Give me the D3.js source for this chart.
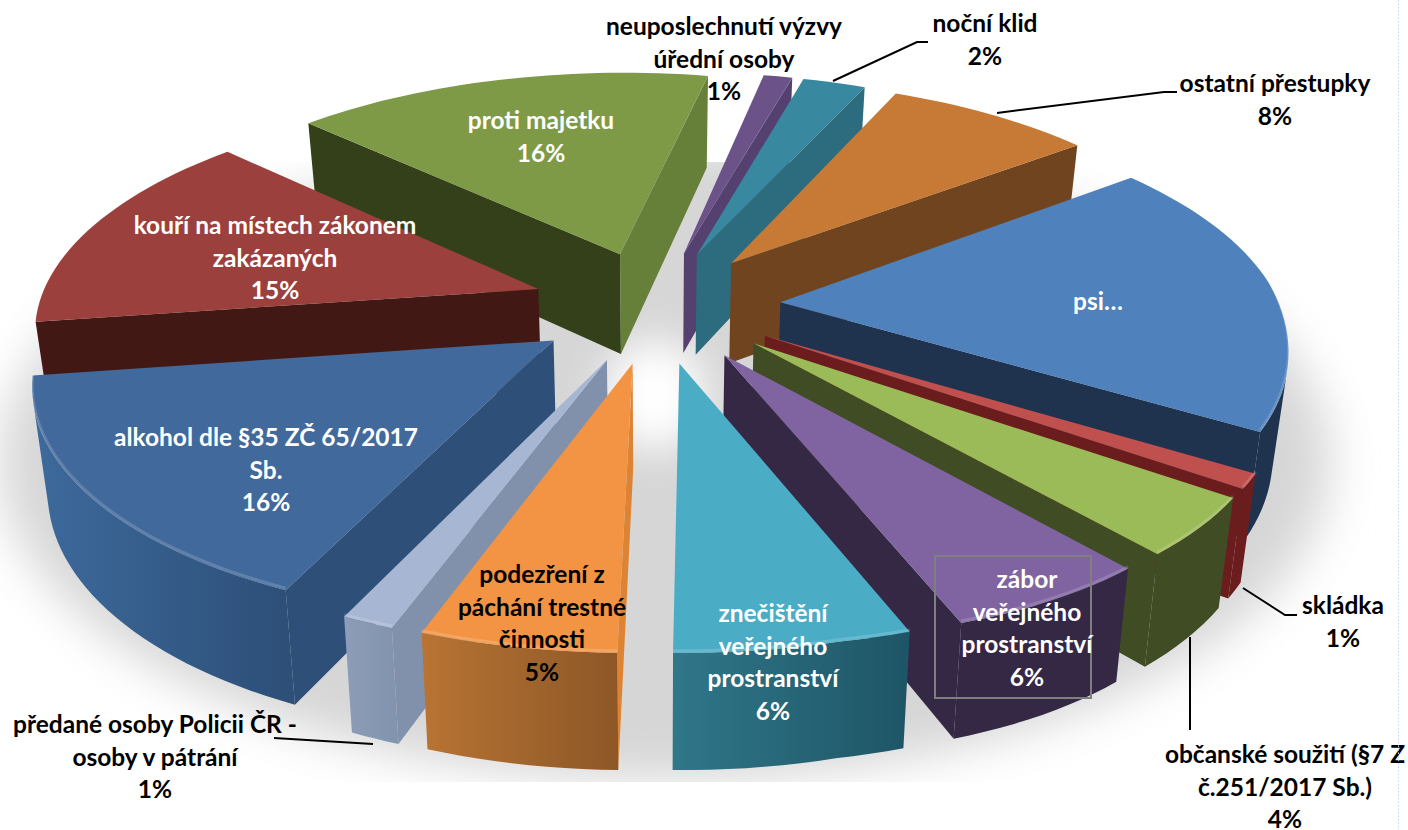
<!DOCTYPE html>
<html><head><meta charset="utf-8">
<style>html,body{margin:0;padding:0;background:#fff;overflow:hidden}svg{display:block}text{font-family:Lato,"Noto Sans",sans-serif;font-weight:700}</style>
<script src="https://cdn.jsdelivr.net/npm/d3@7/dist/d3.min.js"></script></head><body>
<svg id="c" width="1408" height="830"></svg>
<script>
const categories=["podezření z páchání trestné činnosti","předané osoby Policii ČR - osoby v pátrání","alkohol dle §35 ZČ 65/2017 Sb.","kouří na místech zákonem zakázaných","proti majetku","neuposlechnutí výzvy úřední osoby","noční klid","ostatní přestupky","psi","skládka","občanské soužití (§7 Z č.251/2017 Sb.)","zábor veřejného prostranství","znečištění veřejného prostranství"];
const values=[5.2,1.4,15.8,14.5,16.0,1.1,2.4,7.9,18.64,1,4.05,5.7,6.31];
const labelLines=[["podezření z","páchání trestné","činnosti"],["předané osoby Policii ČR -","osoby v pátrání"],["alkohol dle §35 ZČ 65/2017","Sb."],["kouří na místech zákonem","zakázaných"],["proti majetku"],["neuposlechnutí výzvy","úřední osoby"],["noční klid"],["ostatní přestupky"],["psi…"],["skládka"],["občanské soužití (§7 Z","č.251/2017 Sb.)"],["zábor","veřejného","prostranství"],["znečištění","veřejného","prostranství"]];
const showPercent=[1,1,1,1,1,1,1,1,0,1,1,1,1];
const topColors=["#f29443","#a7b6d3","#41699b","#9c403d","#7e9a47","#6b5288","#38889f","#c67a35","#4f81bd","#c0504d","#9bbb59","#8064a2","#4bacc6"];
const wallIn=["#dd8434","#8191ac","#2d4f78","#421815","#34401a","#5a4578","#2f6d80","#70441e","#1f334f","#6b1c1c","#3f4c24","#352845","#2b6d7f"];
const wallOut=["#b36f30","#8c9cb7","#2d4f78","#421815","#66803a","#55416f","#2d6b7e","#70441e","#1f334f","#6b1c1c","#3f4c24","#352845","#2b6d7f"];
const rimLeft=["#b87433","#8d9db9","#3d6a9c","#421815","#34401a","#53406c","#2d6b7e","#70441e","#1f334f","#6b1c1c","#3f4c24","#352845","#2f7789"];
const rimRight=["#8d5727","#8394ae","#2d4f78","#421815","#34401a","#53406c","#2d6b7e","#70441e","#1f334f","#6b1c1c","#3f4c24","#352845","#1e5566"];
const textColors=["#000","#000","#fff","#fff","#fff","#000","#000","#000","#fff","#000","#000","#fff","#fff"];
const labelPlace=[[542,576],[155,726],[266,439],[275,227],[541,122],[724,28],[985,25],[1275,85],[1098,303],[1343,607],[1285,756],[1027,581],[773,615]];
const leaders=[[[833,81],[917,42],[928,42]],[[997,113],[1164,92],[1177,92]],[[1243,588],[1285,615],[1297,615]],[[1190,637],[1190,730]],[[274,738],[373,744]]];

const W=1408,H=830,cx=656,cy=306,K=0.449,persp=0.194,depth=625,R=500,E=125,tilt=8.9e-5;
const svg=d3.select("#c"),defs=svg.append("defs");
const project=(u,v)=>{const s=1/(1-persp*v/depth);return {x:cx+u*s,y:cy+K*v*s+tilt*Math.max(0,u-150)*Math.max(0,v+50),s};};
const lower=p=>({x:cx+(p.x-cx)*0.975,y:p.y+38+64*p.s});
const pie=d3.pie().sort(null).value(d=>d).startAngle(181*Math.PI/180).endAngle((181+360)*Math.PI/180);
const arcs=pie(values);
const line=d3.line().x(d=>d.x).y(d=>d.y);
const closed=pts=>line(pts)+"Z";

// ground shadow
defs.append("filter").attr("id","soft").attr("x","-20%").attr("y","-30%").attr("width","140%").attr("height","160%").append("feGaussianBlur").attr("stdDeviation",24);
defs.append("filter").attr("id","soft2").attr("x","-80%").attr("y","-80%").attr("width","260%").attr("height","260%").append("feGaussianBlur").attr("stdDeviation",20);
defs.append("clipPath").attr("id","sc").append("rect").attr("x",0).attr("y",162).attr("width",W).attr("height",620);
const shadowG=svg.append("g").attr("clip-path","url(#sc)");
shadowG.append("ellipse").attr("cx",665).attr("cy",462).attr("rx",665).attr("ry",318).attr("fill","#d6d6d6").attr("filter","url(#soft)");
shadowG.append("ellipse").attr("cx",655).attr("cy",395).attr("rx",50).attr("ry",55).attr("fill","#fff").attr("filter","url(#soft2)");

const slices=arcs.map((a,i)=>{
  const mid=(a.startAngle+a.endAngle)/2;
  const ox=E*Math.sin(mid),oy=-E*Math.cos(mid);
  const n=Math.max(4,Math.round((a.endAngle-a.startAngle)/0.03));
  const t=d3.scaleLinear().domain([0,n]).range([a.startAngle,a.endAngle]);
  const rim=d3.range(n+1).map(k=>project(ox+R*Math.sin(t(k)),oy-R*Math.cos(t(k))));
  return {i,mid,apex:project(ox,oy),rim,order:-Math.cos(mid)};
}).sort((p,q)=>p.order-q.order);

const g=svg.append("g");
slices.forEach(s=>{
  const i=s.i,G=g.append("g");
  const faces=(a,b)=>d3.polygonArea([[a.x,a.y],[b.x,b.y],[lower(b).x,lower(b).y],[lower(a).x,lower(a).y]])>0;
  const quad=(a,b)=>closed([a,b,lower(b),lower(a)]);
  // radial walls
  const first=s.rim[0],last=s.rim[s.rim.length-1];
  if(faces(s.apex,first))G.append("path").attr("d",quad(s.apex,first)).attr("fill",wallIn[i]);
  if(faces(last,s.apex))G.append("path").attr("d",quad(last,s.apex)).attr("fill",wallOut[i]);
  // outer wall: one path per visible run of the rim
  const xs=s.rim.map(p=>p.x);
  const gid="rim"+i;
  const lg=defs.append("linearGradient").attr("id",gid).attr("gradientUnits","userSpaceOnUse").attr("x1",d3.min(xs)).attr("x2",d3.max(xs)).attr("y1",0).attr("y2",0);
  lg.append("stop").attr("offset",0).attr("stop-color",rimLeft[i]);
  lg.append("stop").attr("offset",1).attr("stop-color",rimRight[i]);
  let run=[];
  const flush=()=>{if(run.length>1)G.append("path").attr("d",closed([...run,...run.map(lower).reverse()])).attr("fill",`url(#${gid})`);run=[];};
  d3.pairs(s.rim).forEach(([a,b])=>{
    if(faces(a,b)){if(!run.length)run.push(a);run.push(b);}else flush();
  });
  flush();
  // top face
  G.append("path").attr("d",closed([s.apex,...s.rim])).attr("fill",topColors[i]);
  // soft bevel along the rim
  if(s.order>-0.2)G.append("path").attr("d",line(s.rim)).attr("fill","none").attr("stroke","#fff").attr("stroke-opacity",0.16).attr("stroke-width",3).attr("transform","translate(0,-2)");
});

// frame around one label
svg.append("rect").attr("x",935).attr("y",556).attr("width",156).attr("height",142).attr("fill","none").attr("stroke","#7f7f7f").attr("stroke-width",2);

// leaders
leaders.forEach(l=>svg.append("path").attr("d",d3.line()(l)).attr("fill","none").attr("stroke","#000").attr("stroke-width",2));

// labels
const FS=24.5,LH=32.5;
categories.forEach((c,i)=>{
  const lines=labelLines[i].slice();
  if(showPercent[i])lines.push(Math.round(values[i])+"%");
  const [x,y]=labelPlace[i];
  const T=svg.append("text").attr("fill",textColors[i]).attr("font-size",FS).attr("text-anchor","middle");
  lines.forEach((t,k)=>T.append("tspan").attr("x",x).attr("y",y+k*LH+7).text(t));
});

// dotted page edge
svg.append("line").attr("x1",1398.5).attr("x2",1398.5).attr("y1",0).attr("y2",H).attr("stroke","#bcd6ec").attr("stroke-width",1).attr("stroke-dasharray","1.5 2");
</script></body></html>
